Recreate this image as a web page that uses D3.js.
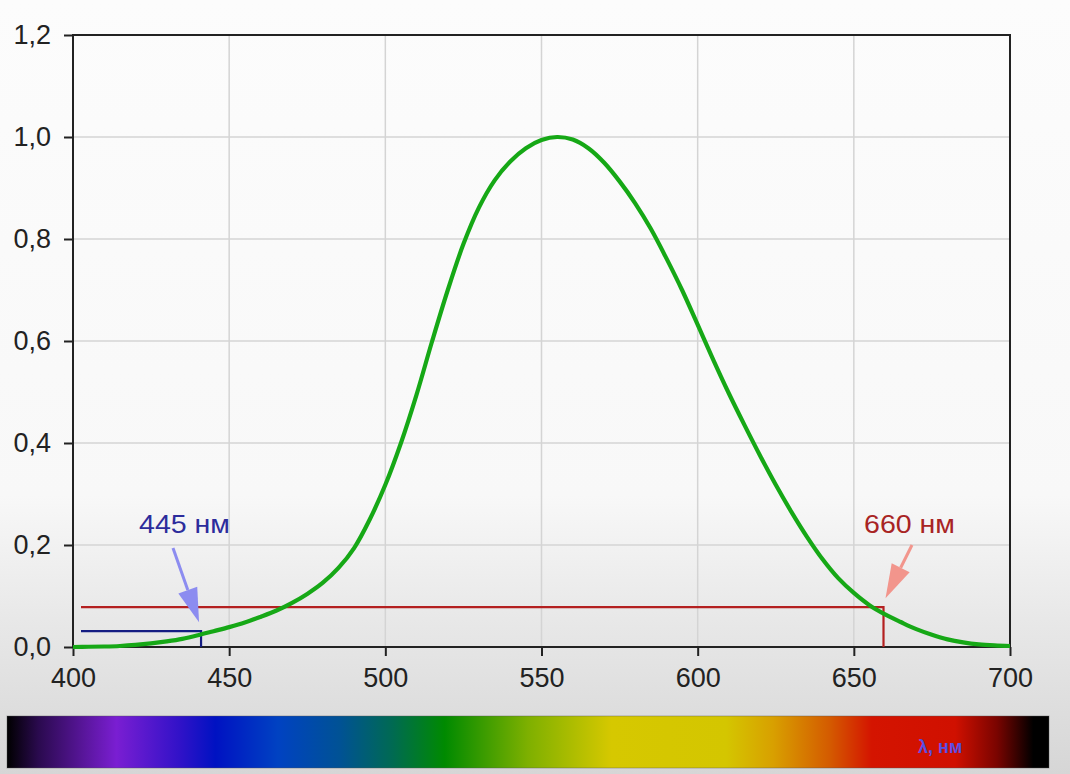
<!DOCTYPE html>
<html>
<head>
<meta charset="utf-8">
<script src="https://cdn.jsdelivr.net/npm/d3@7"></script>
<style>
body{margin:0;background:#fafafa;}
svg{display:block;}
text{font-family:"Liberation Sans",Arial,sans-serif;}
</style>
</head>
<body>
<svg id="chart" width="1070" height="774"></svg>
<script>
// wavelength, nm and relative sensitivity
var wavelengths=[400,405,410,415,420,425,430,435,440,445,450,455,460,465,470,475,480,485,490,495,
                 500,505,510,515,520,525,530,535,540,545,550,555,560,565,570,575,580,585,590,595,
                 600,605,610,615,620,625,630,635,640,645,650,655,660,665,670,675,680,685,690,695,700];
var sensitivity=[0.000,0.0005,0.001,0.002,0.004,0.007,0.011,0.016,0.023,0.031,0.039,0.048,0.059,0.071,0.086,0.104,0.126,0.155,0.194,0.250,
                 0.318,0.400,0.495,0.600,0.700,0.790,0.862,0.915,0.952,0.978,0.994,1.000,0.995,0.978,0.950,0.913,0.870,0.820,0.762,0.700,
                 0.632,0.563,0.497,0.435,0.375,0.318,0.265,0.216,0.172,0.135,0.106,0.082,0.064,0.049,0.035,0.024,0.015,0.009,0.005,0.003,0.002];
var xTicks=[400,450,500,550,600,650,700];
var yTicks=[0,0.2,0.4,0.6,0.8,1.0,1.2];
var markers=[
    {label:"445 нм",lambda:441,level:0.031,color:"#141c82",textColor:"#2c2c9c",arrow:"#8c8cf0"},
    {label:"660 нм",lambda:659.5,level:0.078,color:"#b42020",textColor:"#a82424",arrow:"#f2958c"}
];
var spectrumStops=[[0,"#000000"],[0.03,"#2a0a4e"],[0.105,"#7a1ed2"],[0.165,"#3212c8"],[0.2,"#0012c2"],
                   [0.26,"#0042c2"],[0.32,"#005294"],[0.37,"#006a52"],[0.42,"#008a00"],[0.5,"#7eb000"],
                   [0.58,"#d6c800"],[0.69,"#d4c600"],[0.735,"#d8a000"],[0.79,"#d45a00"],[0.83,"#d41400"],
                   [0.91,"#d01000"],[0.95,"#7a0400"],[0.985,"#000000"],[1,"#000000"]];

var svg=d3.select("#chart");
var pl={left:73,top:35,right:1010,bottom:647};
var x=d3.scaleLinear().domain([400,700]).range([pl.left,pl.right]);
var y=d3.scaleLinear().domain([0,1.2]).range([pl.bottom,pl.top]);

var defs=svg.append("defs");
var bg=defs.append("linearGradient").attr("id","bg").attr("x1",0).attr("y1",0).attr("x2",0).attr("y2",1);
bg.append("stop").attr("offset","0").attr("stop-color","#fcfcfc");
bg.append("stop").attr("offset","0.64").attr("stop-color","#f8f8f8");
bg.append("stop").attr("offset","0.8").attr("stop-color","#e8e8e8");
bg.append("stop").attr("offset","1").attr("stop-color","#d6d6d6");
svg.append("rect").attr("width",1070).attr("height",774).attr("fill","url(#bg)");

// grid
var grid=svg.append("g").attr("stroke","#d4d4d4").attr("stroke-width",1.5);
grid.selectAll(".gx").data(xTicks.slice(1,-1)).enter().append("line")
    .attr("x1",function(d){return x(d);}).attr("x2",function(d){return x(d);})
    .attr("y1",pl.top).attr("y2",pl.bottom);
grid.selectAll(".gy").data(yTicks.slice(1,-1)).enter().append("line")
    .attr("y1",function(d){return y(d);}).attr("y2",function(d){return y(d);})
    .attr("x1",pl.left).attr("x2",pl.right);

// axes
var fmt=function(d){return d3.format(".1f")(d).replace(".",",");};
var xAxis=svg.append("g").attr("transform","translate(0,"+pl.bottom+")")
    .call(d3.axisBottom(x).tickValues(xTicks).tickSize(9).tickPadding(7));
var yAxis=svg.append("g").attr("transform","translate("+pl.left+",0)")
    .call(d3.axisLeft(y).tickValues(yTicks).tickFormat(fmt).tickSize(9).tickPadding(13));
[xAxis,yAxis].forEach(function(a){
    a.select(".domain").remove();
    a.selectAll(".tick line").attr("stroke","#222").attr("stroke-width",2);
    a.selectAll("text").attr("fill","#222").style("font-size","27px");
});
xAxis.selectAll("text").attr("dy","0.9em");

// frame
svg.append("rect").attr("x",pl.left).attr("y",pl.top).attr("width",pl.right-pl.left).attr("height",pl.bottom-pl.top)
    .attr("fill","none").attr("stroke","#222").attr("stroke-width",2);

// marker lines
markers.forEach(function(m){
    svg.append("path")
        .attr("d","M"+(pl.left+8)+","+y(m.level)+"H"+x(m.lambda)+"V"+pl.bottom)
        .attr("fill","none").attr("stroke",m.color).attr("stroke-width",2.2);
});

// curve
var pts=wavelengths.map(function(w,i){return [w,sensitivity[i]];});
var line=d3.line().x(function(d){return x(d[0]);}).y(function(d){return y(d[1]);}).curve(d3.curveCatmullRom);
svg.append("path").datum(pts).attr("d",line).attr("fill","none")
    .attr("stroke","#16a816").attr("stroke-width",4.2).attr("stroke-linejoin","round");

// annotations
var ann=[{m:markers[0],tx:139,ty:533,sx:173,sy:548,dx:1},{m:markers[1],tx:864,ty:533,sx:912,sy:545,dx:-1}];
ann.forEach(function(a){
    var tipX=x(a.m.lambda)+(a.dx>0?-2:2), tipY=y(a.m.level)-9;
    svg.append("text").attr("x",a.tx).attr("y",a.ty).text(a.m.label)
        .attr("fill",a.m.textColor).style("font-size","26px")
        .attr("textLength",91).attr("lengthAdjust","spacingAndGlyphs");
    var ang=Math.atan2(tipY-a.sy,tipX-a.sx), hl=34, hw=10;
    var bx=tipX-hl*Math.cos(ang), by=tipY-hl*Math.sin(ang);
    svg.append("line").attr("x1",a.sx).attr("y1",a.sy).attr("x2",bx).attr("y2",by)
        .attr("stroke",a.m.arrow).attr("stroke-width",3);
    var px=-Math.sin(ang)*hw, py=Math.cos(ang)*hw;
    svg.append("path").attr("d","M"+tipX+","+tipY+"L"+(bx+px)+","+(by+py)+"L"+(bx-px)+","+(by-py)+"Z")
        .attr("fill",a.m.arrow);
});

// spectrum bar
var sg=defs.append("linearGradient").attr("id","spectrum");
sg.selectAll("stop").data(spectrumStops).enter().append("stop")
    .attr("offset",function(d){return d[0];}).attr("stop-color",function(d){return d[1];});
svg.append("rect").attr("x",7).attr("y",716).attr("width",1042).attr("height",52)
    .attr("fill","url(#spectrum)").attr("stroke","#555").attr("stroke-opacity",0.4).attr("stroke-width",1);
svg.append("text").attr("x",918).attr("y",753).text("λ, нм")
    .attr("fill","#5a4ee0").style("font-size","18px").style("font-weight","bold");
</script>
</body>
</html>
